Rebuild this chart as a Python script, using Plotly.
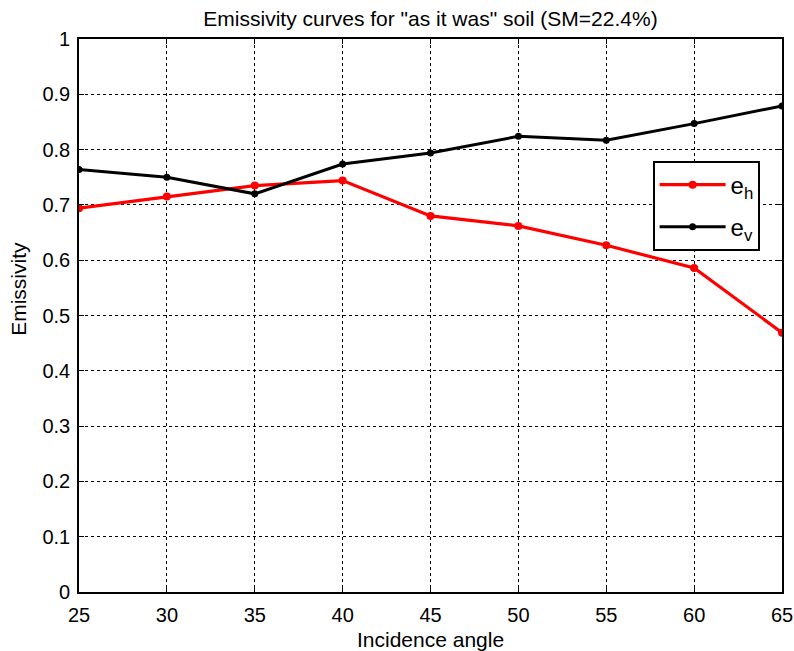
import plotly.graph_objects as go

angles = [25, 30, 35, 40, 45, 50, 55, 60, 65]
e_h = [0.694, 0.715, 0.735, 0.744, 0.680, 0.662, 0.627, 0.586, 0.469]
e_v = [0.764, 0.750, 0.720, 0.774, 0.794, 0.824, 0.817, 0.847, 0.879]
x_ticks = [25, 30, 35, 40, 45, 50, 55, 60, 65]
y_ticks = [0, 0.1, 0.2, 0.3, 0.4, 0.5, 0.6, 0.7, 0.8, 0.9, 1]
y_labels = ["0", "0.1", "0.2", "0.3", "0.4", "0.5", "0.6", "0.7", "0.8", "0.9", "1"]

FONT = "Liberation Sans, Arial, Helvetica"

fig = go.Figure()
fig.add_trace(go.Scatter(x=angles, y=e_h, mode="lines+markers", name="e<sub>h</sub>",
                         legendgroup="h",
                         line=dict(color="#ff0000", width=3.2),
                         marker=dict(color="#ff0000", size=8)))
fig.add_trace(go.Scatter(x=angles, y=e_v, mode="lines+markers", name="e<sub>v</sub>",
                         legendgroup="v",
                         line=dict(color="#000000", width=3),
                         marker=dict(color="#000000", size=7)))

axis_common = dict(showline=True, linecolor="black", linewidth=1.6, mirror="ticks",
                   showgrid=True, gridcolor="black", gridwidth=1, griddash="dot",
                   ticks="inside", ticklen=5, tickcolor="black", zeroline=False,
                   automargin=False,
                   tickfont=dict(family=FONT, size=20, color="black"))

W, H = 794, 651
fig.update_layout(
    width=W, height=H,
    paper_bgcolor="white", plot_bgcolor="white",
    margin=dict(l=79, r=W - 782, t=39, b=H - 592),
    title=dict(text='Emissivity curves for "as it was" soil (SM=22.4%)',
               x=0.5, xanchor="center", xref="paper",
               y=1 - 19 / H, yanchor="middle", yref="container",
               font=dict(family=FONT, size=21, color="black")),
    font=dict(family=FONT, color="black"),
    xaxis=dict(range=[25, 65], tickvals=x_ticks, ticktext=[str(v) for v in x_ticks],
               ticklabelstandoff=4, **axis_common),
    yaxis=dict(range=[0, 1], tickvals=y_ticks, ticktext=y_labels,
               ticklabelstandoff=3, **axis_common),
    legend=dict(x=(653 - 79) / 703, y=(592.3 - 161) / 553.3, xanchor="left", yanchor="top",
                bgcolor="white", bordercolor="black", borderwidth=1.6,
                font=dict(family=FONT, size=24, color="black"),
                itemwidth=66, traceorder="grouped", tracegroupgap=8),
    showlegend=True,
    hovermode=False,
    annotations=[
        dict(text="Incidence angle", xref="paper", yref="paper",
             x=0.5, y=-(640 - 592.3) / 553.3, xanchor="center", yanchor="middle",
             showarrow=False, font=dict(family=FONT, size=21, color="black")),
        dict(text="Emissivity", xref="paper", yref="paper",
             x=-(79 - 19) / 703, y=(592.3 - 289) / 553.3, xanchor="center", yanchor="middle",
             textangle=-90, showarrow=False, font=dict(family=FONT, size=21, color="black")),
    ],
)

fig.write_html("out.html", config={"displayModeBar": False},
               post_script="document.body.style.margin='0';document.body.style.overflow='hidden';")
